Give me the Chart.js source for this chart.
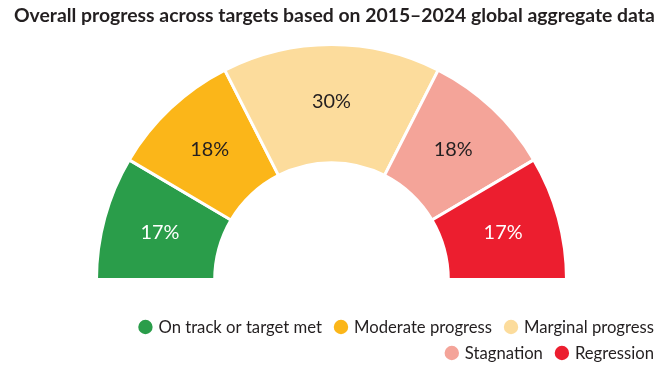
<!DOCTYPE html>
<html>
<head>
<meta charset="utf-8">
<script src="https://cdn.jsdelivr.net/npm/chart.js@4.4.1/dist/chart.umd.min.js"></script>
<style>
  html, body { margin: 0; padding: 0; background: #ffffff; }
  #wrap { width: 664px; height: 380px; position: relative; }
</style>
</head>
<body>
<div id="wrap"><canvas id="c" width="664" height="380"></canvas></div>
<script>
const titleText = "Overall progress across targets based on 2015\u20132024 global aggregate data";
const categories = ["On track or target met", "Moderate progress", "Marginal progress", "Stagnation", "Regression"];
const shares = [17, 18, 30, 18, 17];
const sliceLabels = ["17%", "18%", "30%", "18%", "17%"];
const colors = ["#2a9d4a", "#fbb619", "#fcdc9c", "#f4a499", "#ec1e2f"];
const labelColors = ["#ffffff", "#231f20", "#231f20", "#231f20", "#ffffff"];
const legendRows = [[0, 1, 2], [3, 4]];

const TEXT = "#231f20";

function fitSize(ctx, text, weight, family, target) {
  ctx.font = weight + " 20px " + family;
  const w = ctx.measureText(text).width;
  return 20 * target / w;
}

const decor = {
  id: "decor",
  afterDatasetsDraw(chart) {
    const ctx = chart.ctx;
    ctx.save();
    const meta = chart.getDatasetMeta(0);
    const lblSize = fitSize(ctx, "30%", "400", "Lato", 39);
    ctx.font = "400 " + lblSize.toFixed(2) + "px Lato";
    ctx.textAlign = "center";
    ctx.textBaseline = "middle";
    meta.data.forEach((arc, i) => {
      const p = arc.getProps(["x", "y", "startAngle", "endAngle", "innerRadius", "outerRadius"], true);
      const a = (p.startAngle + p.endAngle) / 2;
      const r = (p.innerRadius + p.outerRadius) / 2 + 2;
      ctx.fillStyle = labelColors[i];
      ctx.fillText(sliceLabels[i], p.x + Math.cos(a) * r, p.y + Math.sin(a) * r);
    });
    ctx.restore();
  },
  afterDraw(chart) {
    const ctx = chart.ctx;
    ctx.save();
    const tSize = fitSize(ctx, titleText, "700", "Lato", 641);
    ctx.font = "700 " + tSize.toFixed(2) + "px Lato";
    ctx.fillStyle = TEXT;
    ctx.textAlign = "left";
    ctx.textBaseline = "alphabetic";
    ctx.fillText(titleText, 14, 22);

    const lSize = fitSize(ctx, categories[2], "400", "Lato", 130);
    ctx.font = "400 " + lSize.toFixed(2) + "px Lato";
    ctx.textBaseline = "middle";
    const rowY = [327, 353];
    legendRows.forEach((row, ri) => {
      let x = 654;
      for (let k = row.length - 1; k >= 0; k--) {
        const idx = row[k];
        const w = ctx.measureText(categories[idx]).width;
        const ts = x - w;
        ctx.fillStyle = TEXT;
        ctx.textAlign = "left";
        ctx.fillText(categories[idx], ts, rowY[ri] + 1);
        const cx = ts - 13;
        ctx.beginPath();
        ctx.arc(cx, rowY[ri], 7.2, 0, Math.PI * 2);
        ctx.fillStyle = colors[idx];
        ctx.fill();
        x = cx - 19;
      }
    });
    ctx.restore();
  }
};

new Chart(document.getElementById("c"), {
  type: "doughnut",
  data: {
    labels: categories,
    datasets: [{
      data: shares,
      backgroundColor: colors,
      hoverBackgroundColor: colors,
      borderColor: "#ffffff",
      hoverBorderColor: "#ffffff",
      borderWidth: 3,
      hoverBorderWidth: 3,
      borderAlign: "center"
    }]
  },
  options: {
    responsive: false,
    animation: false,
    rotation: -90,
    circumference: 180,
    cutout: "49.7%",
    layout: { padding: { top: 43, bottom: 99, left: 0, right: 1 } },
    plugins: {
      legend: { display: false },
      title: { display: false },
      tooltip: { enabled: false }
    },
    events: []
  },
  plugins: [decor]
});
</script>
</body>
</html>
